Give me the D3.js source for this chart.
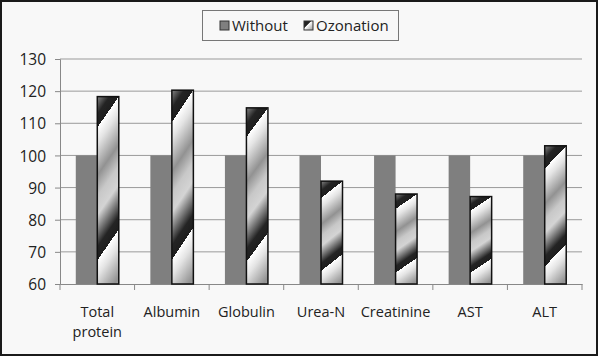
<!DOCTYPE html>
<html><head><meta charset="utf-8">
<script src="https://cdn.jsdelivr.net/npm/d3@7"></script>
<style>body{margin:0;background:#fff}svg{display:block}</style>
</head><body>
<svg id="c" width="600" height="359"></svg>
<script>
const categories = ["Total protein","Albumin","Globulin","Urea-N","Creatinine","AST","ALT"];
const withoutValues = [100,100,100,100,100,100,100];
const ozonationValues = [118.3,120.3,114.8,92,88,87.2,103];
const seriesNames = ["Without","Ozonation"];
const yTicks = [60,70,80,90,100,110,120,130];

const svg = d3.select("#c");
const font = "'Open Sans', 'DejaVu Sans', sans-serif";
const defs = svg.append("defs");
const g = defs.append("linearGradient").attr("id","oz")
  .attr("gradientUnits","objectBoundingBox").attr("spreadMethod","repeat")
  .attr("x1",1).attr("y1",0).attr("x2",1.114).attr("y2",0.69);
[[0,"#ffffff"],[0.12,"#e4e4e4"],[0.36,"#929292"],[0.52,"#c8c8c8"],[0.66,"#d4d4d4"],[0.83,"#585858"],[0.9,"#242424"],[1,"#1e1e1e"]]
  .forEach(([o,c])=>g.append("stop").attr("offset",o).attr("stop-color",c));
const lg = defs.append("linearGradient").attr("id","ozl")
  .attr("x1",0).attr("y1",0).attr("x2",1).attr("y2",1);
[[0,"#222"],[0.38,"#222"],[0.42,"#fff"],[1,"#999"]].forEach(([o,c])=>lg.append("stop").attr("offset",o).attr("stop-color",c));

svg.append("rect").attr("x",1).attr("y",1).attr("width",596).attr("height",354)
  .attr("fill","#f8f8f8").attr("stroke","#1a1a1a").attr("stroke-width",2);

const x = d3.scaleBand().domain(categories).range([60,582]).paddingInner(0).paddingOuter(0);
const y = d3.scaleLinear().domain([60,130]).range([284,59]);
const inner = d3.scaleBand().domain(seriesNames).range([0,x.bandwidth()]).paddingOuter(0.734).paddingInner(0);

// gridlines
svg.append("g").selectAll("line").data(yTicks.slice(1)).join("line")
  .attr("x1",60).attr("x2",582).attr("y1",d=>y(d)).attr("y2",d=>y(d))
  .attr("stroke","#9a9a9a").attr("stroke-width",1);

// y axis
const ya = svg.append("g").attr("transform","translate(60,0)")
  .call(d3.axisLeft(y).tickValues(yTicks).tickSize(5).tickPadding(9).tickFormat(d3.format("d")));
ya.selectAll("text").attr("font-family",font).attr("font-size",15.5).attr("fill","#222").attr("dy","0.36em");
ya.selectAll("line,path").attr("stroke","#888");

// x axis
const xa = svg.append("g").attr("transform","translate(0,284)")
  .call(d3.axisBottom(x).tickSize(0).tickFormat(""));
xa.select("path").attr("stroke","#888");
xa.selectAll(".tick").remove();
xa.append("g").selectAll("line").data(categories.concat([null])).join("line")
  .attr("x1",(d,i)=>60+i*x.step()).attr("x2",(d,i)=>60+i*x.step())
  .attr("y1",0).attr("y2",6).attr("stroke","#888");

// bars
const grp = svg.append("g").selectAll("g").data(categories).join("g")
  .attr("transform",d=>`translate(${x(d)},0)`);
grp.append("rect")
  .attr("x",inner("Without")).attr("width",inner.bandwidth())
  .attr("y",(d,i)=>y(withoutValues[i])).attr("height",(d,i)=>y(60)-y(withoutValues[i]))
  .attr("fill","#7f7f7f");
grp.append("rect")
  .attr("x",inner("Ozonation")).attr("width",inner.bandwidth())
  .attr("y",(d,i)=>y(ozonationValues[i])).attr("height",(d,i)=>y(60)-y(ozonationValues[i]))
  .attr("fill","url(#oz)").attr("stroke","#111").attr("stroke-width",1.5);

// category labels
const lab = svg.append("g").selectAll("text").data(categories).join("text")
  .attr("font-family",font).attr("font-size",14.5).attr("fill","#222")
  .attr("text-anchor","middle");
lab.each(function(d){
  const t = d3.select(this);
  const parts = d === "Total protein" ? ["Total","protein"] : [d];
  parts.forEach((p,k)=>t.append("tspan").attr("x",x(d)+x.bandwidth()/2).attr("y",317+k*20).text(p));
});

// legend
const leg = svg.append("g");
leg.append("rect").attr("x",202.5).attr("y",10.5).attr("width",196).attr("height",30)
  .attr("fill","#f8f8f8").attr("stroke","#777").attr("stroke-width",1);
const items = [{n:"Without",x:220,f:"#7f7f7f"},{n:"Ozonation",x:304,f:"url(#ozl)"}];
items.forEach(it=>{
  leg.append("rect").attr("x",it.x).attr("y",21).attr("width",9).attr("height",9)
    .attr("fill",it.f).attr("stroke","#333").attr("stroke-width",1);
  leg.append("text").attr("x",it.x+12).attr("y",30.5).attr("font-family",font)
    .attr("font-size",15).attr("fill","#222").text(it.n);
});
</script>
</body></html>
